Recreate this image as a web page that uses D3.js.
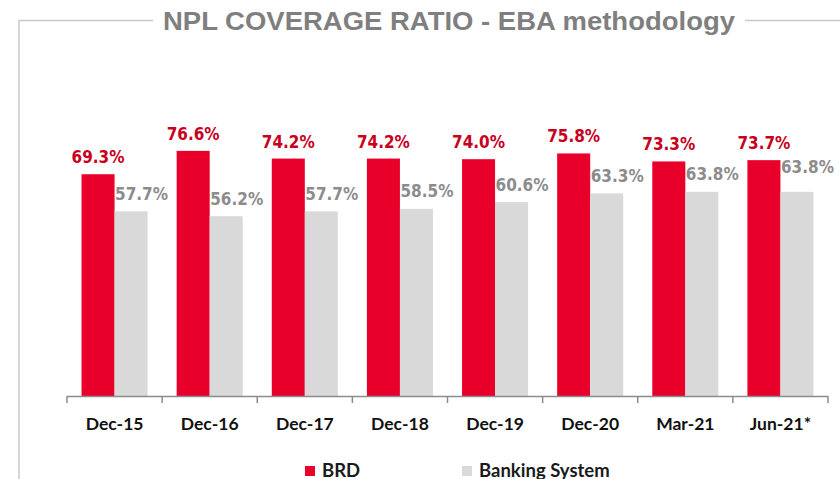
<!DOCTYPE html>
<html>
<head>
<meta charset="utf-8">
<script src="https://cdn.jsdelivr.net/npm/d3@7"></script>
<style>
  body { margin: 0; background: #fff; }
  #chart svg { display: block; }
</style>
</head>
<body>
<div id="chart"></div>
<script>
// Data
const categories = ['Dec-15', 'Dec-16', 'Dec-17', 'Dec-18', 'Dec-19', 'Dec-20', 'Mar-21', 'Jun-21*'];
const seriesNames = ['BRD', 'Banking System'];
const brdValues = [69.3, 76.6, 74.2, 74.2, 74.0, 75.8, 73.3, 73.7];
const bankingValues = [57.7, 56.2, 57.7, 58.5, 60.6, 63.3, 63.8, 63.8];

const colors = { 'BRD': '#e8002a', 'Banking System': '#d9d9d9' };
const labelColors = { 'BRD': '#c8001e', 'Banking System': '#8c8c8c' };

function draw() {
  const width = 840;
  const height = 479;

  const svg = d3.select('#chart')
    .append('svg')
    .attr('width', width)
    .attr('height', height);

  // Frame + title
  const frame = '#c8c8c8';
  svg.append('line')
    .attr('x1', 19).attr('x2', 153).attr('y1', 20.5).attr('y2', 20.5)
    .attr('stroke', frame).attr('stroke-width', 1.5);
  svg.append('line')
    .attr('x1', 745).attr('x2', 840).attr('y1', 20.5).attr('y2', 20.5)
    .attr('stroke', frame).attr('stroke-width', 1.5);
  svg.append('line')
    .attr('x1', 19).attr('x2', 19).attr('y1', 20).attr('y2', height)
    .attr('stroke', frame).attr('stroke-width', 1.5);

  svg.append('text')
    .attr('x', 163)
    .attr('y', 29.5)
    .attr('font-family', '"Liberation Sans", Arial, sans-serif')
    .attr('font-weight', 'bold')
    .attr('font-size', '26px')
    .attr('fill', '#7f7f7f')
    .attr('textLength', 572)
    .attr('lengthAdjust', 'spacingAndGlyphs')
    .text('NPL COVERAGE RATIO - EBA methodology');

  // Scales
  const x0 = d3.scaleBand()
    .domain(categories)
    .range([67, 828]);

  const x1 = d3.scaleBand()
    .domain(seriesNames)
    .range([0, x0.bandwidth()])
    .paddingOuter(0.44);

  const y = d3.scaleLinear()
    .domain([0, 100])
    .range([396, 76]);

  const rows = categories.map((c, i) => ({
    category: c,
    values: [
      { series: 'BRD', value: brdValues[i] },
      { series: 'Banking System', value: bankingValues[i] }
    ]
  }));

  // Bars
  const groups = svg.append('g')
    .selectAll('g')
    .data(rows)
    .join('g')
    .attr('transform', d => `translate(${x0(d.category)},0)`);

  groups.selectAll('rect')
    .data(d => d.values)
    .join('rect')
    .attr('x', d => x1(d.series))
    .attr('y', d => y(d.value))
    .attr('width', x1.bandwidth())
    .attr('height', d => y(0) - y(d.value))
    .attr('fill', d => colors[d.series]);

  // Value labels
  const last = categories.length - 1;
  groups.each(function (row, i) {
    d3.select(this).selectAll('text')
      .data(row.values)
      .join('text')
      .attr('x', d => x1(d.series) + x1.bandwidth() / 2 + (d.series === 'BRD' ? 0 : 10.5))
      .attr('y', d => {
        if (d.series === 'BRD') return y(d.value) - 11;
        return y(d.value) - (i === last ? 19 : 11.5);
      })
      .attr('text-anchor', 'middle')
      .attr('font-family', '"DejaVu Sans", Verdana, sans-serif')
      .attr('font-weight', 'bold')
      .attr('font-size', '17px')
      .attr('fill', d => labelColors[d.series])
      .attr('textLength', 53)
      .attr('lengthAdjust', 'spacingAndGlyphs')
      .text(d => d.value.toFixed(1) + '%');
  });

  // Axis
  const xAxis = d3.axisBottom(x0)
    .tickSize(0)
    .tickPadding(22);

  const axisG = svg.append('g')
    .attr('transform', `translate(0, ${y(0)})`)
    .call(xAxis);

  axisG.select('.domain').remove();
  axisG.append('line')
    .attr('x1', 67).attr('x2', 828)
    .attr('y1', 0.5).attr('y2', 0.5)
    .attr('stroke', '#8c8c8c').attr('stroke-width', 1.5);

  // tick marks between categories
  const bounds = categories.map(c => x0(c)).concat([x0(categories[last]) + x0.step()]);
  axisG.selectAll('.sep')
    .data(bounds)
    .join('line')
    .attr('class', 'sep')
    .attr('x1', d => d).attr('x2', d => d)
    .attr('y1', 0).attr('y2', 7)
    .attr('stroke', '#8c8c8c').attr('stroke-width', 1.5);

  axisG.selectAll('.tick text')
    .attr('font-family', 'Lato, "Open Sans", sans-serif')
    .attr('font-weight', 'bold')
    .attr('font-size', '17.5px')
    .attr('fill', '#111');

  // Legend
  const legend = svg.append('g');
  const legendX = [305, 462];
  seriesNames.forEach((s, i) => {
    legend.append('rect')
      .attr('x', legendX[i])
      .attr('y', 466)
      .attr('width', 10)
      .attr('height', 10)
      .attr('fill', colors[s]);
    legend.append('text')
      .attr('x', legendX[i] + 17)
      .attr('y', 476.5)
      .attr('font-family', 'Lato, "Open Sans", sans-serif')
      .attr('font-weight', 'bold')
      .attr('font-size', '18.5px')
      .attr('fill', '#1a1a1a')
      .text(s);
  });
}

draw();
</script>
</body>
</html>
